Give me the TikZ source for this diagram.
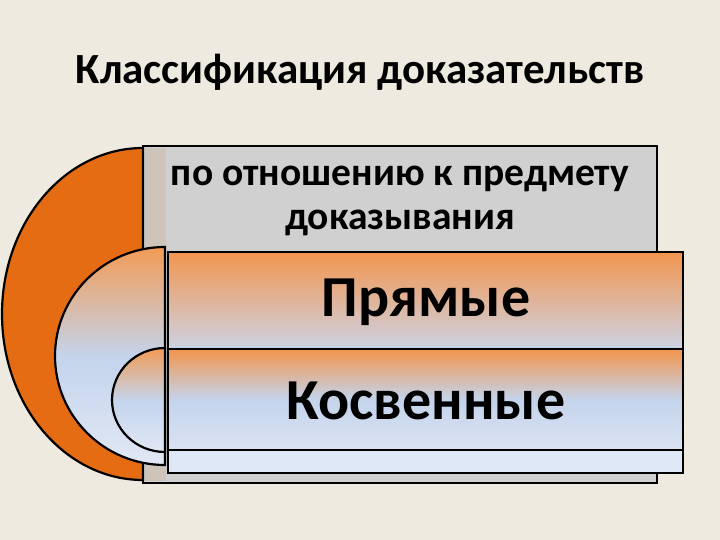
\documentclass[tikz,border=0pt]{standalone}
\usepackage{fontspec}
\setmainfont{Carlito}
\begin{document}
\begin{tikzpicture}[x=1pt,y=-1pt,line width=2.2pt,
 ln/.style={draw=black},
 halfshade/.style={top color={rgb,255:red,242;green,155;blue,85}, bottom color={rgb,255:red,225;green,232;blue,245}, middle color={rgb,255:red,196;green,212;blue,236}}]
\definecolor{bg}{RGB}{238,234,224}
\definecolor{org}{RGB}{230,108,20}
\definecolor{gr}{RGB}{208,208,208}
\definecolor{tan}{RGB}{206,196,186}
\definecolor{pal}{RGB}{222,232,246}
\fill[bg] (0,0) rectangle (720,540);
\useasboundingbox (0,0) rectangle (720,540);
\node[font=\bfseries\fontsize{43}{50}\selectfont] (title) at (360,72) {Классификация доказательств};
% gray rect
\draw[ln,fill=gr] (143,146) rectangle (657,483);
\fill[tan] (145,148) rectangle (166,481);
\node[font=\bfseries\fontsize{39.5}{44}\selectfont,align=center] (cat) at (400,201) {по отношению к предмету\\доказывания};
% orange outer half
\draw[ln,fill=org] (143,148) arc[start angle=-90,end angle=-270,x radius=141,y radius=166] -- cycle;
% middle half
\shade[halfshade] (165,247) arc[start angle=-90,end angle=-270,x radius=110,y radius=109] -- cycle;
\draw[ln] (165,247) arc[start angle=-90,end angle=-270,x radius=110,y radius=109] -- cycle;
% rectangles
\draw[ln,fill=pal] (168,252) rectangle (683,473);
\shade[top color={rgb,255:red,242;green,150;blue,80}, bottom color={rgb,255:red,205;green,210;blue,228}] (169,253) rectangle (682,348);
\shade[top color={rgb,255:red,242;green,150;blue,80}, bottom color={rgb,255:red,218;green,226;blue,242}, middle color={rgb,255:red,196;green,212;blue,236}] (169,350) rectangle (682,449);
\draw[ln] (168,252) rectangle (683,473);
\draw[ln] (168,349) -- (683,349);
\draw[ln] (168,450) -- (683,450);
% inner half
\shade[halfshade] (165,348) arc[start angle=-90,end angle=-270,x radius=53,y radius=52] -- cycle;
\draw[ln] (165,348) arc[start angle=-90,end angle=-270,x radius=53,y radius=52] -- cycle;
\node[font=\bfseries\fontsize{58}{60}\selectfont] (a) at (426,302) {Прямые};
\node[font=\bfseries\fontsize{58}{60}\selectfont] (b) at (426,401) {Косвенные};
\end{tikzpicture}
\end{document}
